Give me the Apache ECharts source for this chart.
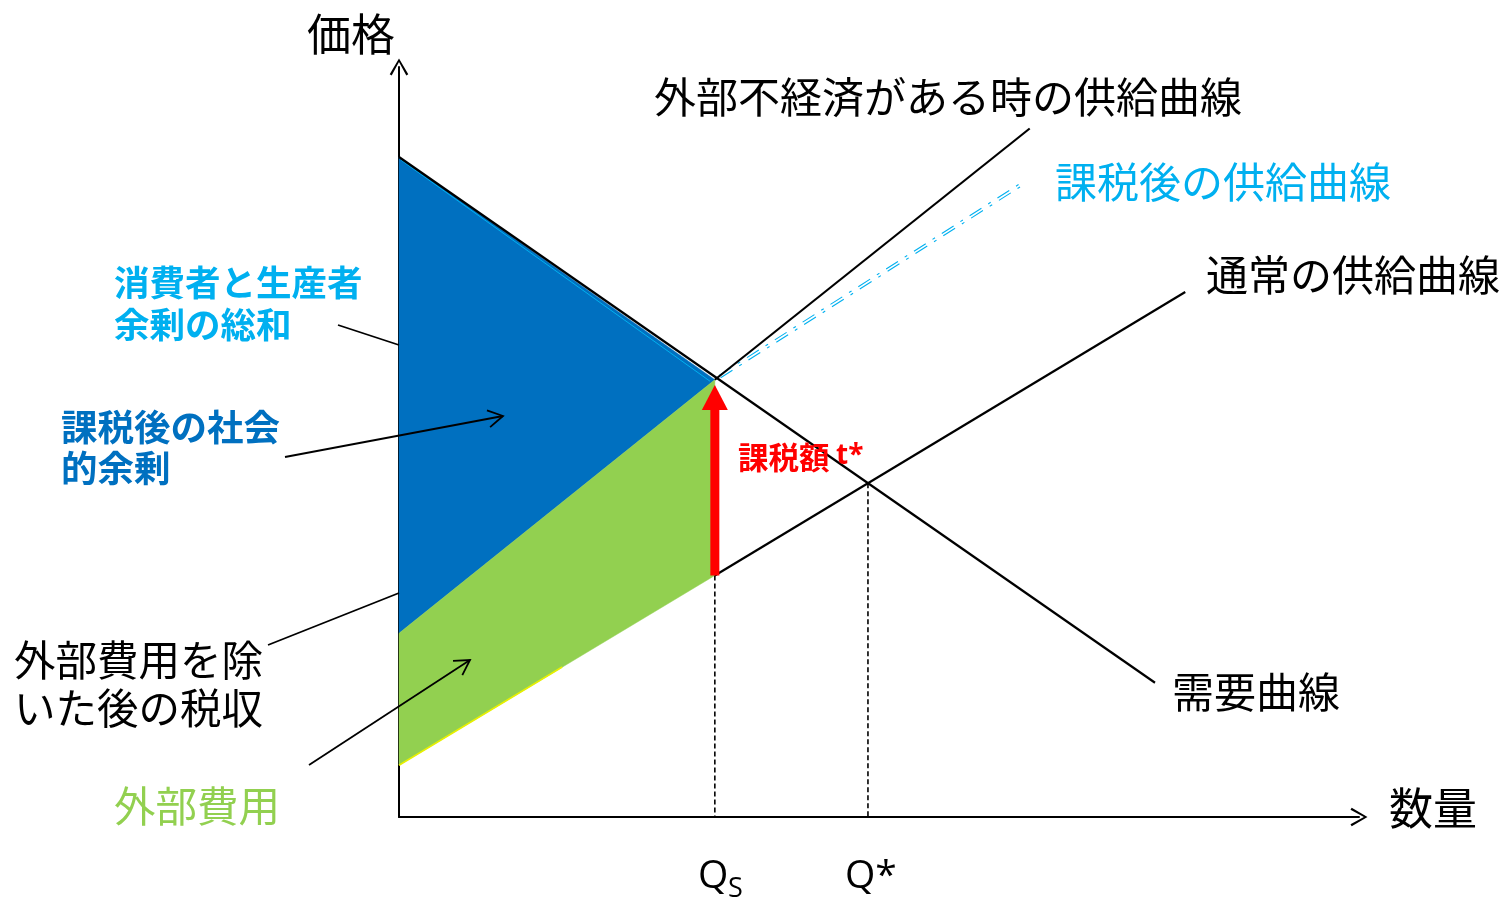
<!DOCTYPE html>
<html><head><meta charset="utf-8">
<script src="https://cdn.jsdelivr.net/npm/echarts@6/dist/echarts.min.js"></script>
<style>html,body{margin:0;padding:0;background:#fff}#c{width:1508px;height:904px}</style>
</head><body><div id="c"></div>
<script>
// ---- data (quantity 0..100, price 0..100) ----
const qS = 32.9;          // quantity after tax
const qStar = 48.85;      // market equilibrium quantity
const priceAtQs = 58.3;   // demand price at Qs
const costAtQs = 32.2;    // normal supply at Qs
const eqPrice = 44.5;     // equilibrium price
const demandLine = [[0, 88.0], [78.75, 17.9]];
const normalSupplyVisible = [[qS, 32.2], [81.9, 70.0]];
const externalSupplyVisible = [[qS, 58.3], [65.7, 91.8]];
const taxedSupplyLine = [[qS, 58.3], [64.9, 84.4]];
const surplusRegion = [[0, 88.0], [qS, 58.3], [0, 24.5]];
const externalCostRegion = [[0, 24.5], [qS, 58.3], [qS, 32.2], [0, 6.9]];
const greenEdge = [[0, 6.9], [17, 20.0]];
const taxArrow = [[qS, 32.2], [qS, 57.6]];
const dropLines = [[[qS, costAtQs], [qS, 0]], [[qStar, eqPrice], [qStar, 0]]];

const FONT = '"Noto Sans CJK JP", "Noto Sans", sans-serif';
const chevron = 'path://M0,17 L10,0 L20,17 L17.9,18.3 L10,3.9 L2.1,18.3 Z';

const chart = echarts.init(document.getElementById('c'), null, {renderer: 'canvas'});

function txt(x, y, s, size, color, weight, align) {
  return {type: 'text', x: x, y: y, z: 50,
    style: {text: s, fill: color, font: (weight || 'normal') + ' ' + size + 'px ' + FONT,
      textAlign: align || 'left', textVerticalAlign: 'middle'}};
}
function seg(x1, y1, x2, y2, head) {
  const els = [{type: 'line', z: 40, shape: {x1, y1, x2, y2}, style: {stroke: '#000', lineWidth: 1.8}}];
  if (head) {
    const a = Math.atan2(y2 - y1, x2 - x1), L = 17, w = Math.PI / 6;
    els.push({type: 'polyline', z: 40, shape: {points: [
      [x2 - L * Math.cos(a - w), y2 - L * Math.sin(a - w)], [x2, y2],
      [x2 - L * Math.cos(a + w), y2 - L * Math.sin(a + w)]]},
      style: {stroke: '#000', lineWidth: 1.8, fill: null}});
  }
  return els;
}

const graphics = [].concat(
  [txt(351, 34, '価格', 44, '#000', 'normal', 'center'),
   txt(1433, 808, '数量', 44, '#000', 'normal', 'center'),
   {type: 'text', x: 698, y: 877, z: 50, style: {text: 'Q', fill: '#000', font: '39px "Open Sans", sans-serif', textVerticalAlign: 'middle'}},
   {type: 'text', x: 728, y: 889, z: 50, style: {text: 'S', fill: '#000', font: '27px "Open Sans", sans-serif', textVerticalAlign: 'middle'}},
   {type: 'text', x: 845, y: 877, z: 50, style: {text: 'Q*', fill: '#000', font: '39px "Open Sans", sans-serif', textVerticalAlign: 'middle'}},
   txt(948, 97, '外部不経済がある時の供給曲線', 42, '#000', 'normal', 'center'),
   txt(1055, 182, '課税後の供給曲線', 42, '#00B0F0'),
   txt(1206, 275, '通常の供給曲線', 42, '#000'),
   txt(1172, 692, '需要曲線', 42, '#000'),
   txt(114, 283, '消費者と生産者', 35.5, '#00B0F0', 'bold'),
   txt(114, 325, '余剰の総和', 35.5, '#00B0F0', 'bold'),
   txt(61, 427, '課税後の社会', 36.5, '#0070C0', 'bold'),
   txt(61, 468, '的余剰', 36.5, '#0070C0', 'bold'),
   txt(14, 660, '外部費用を除', 41.5, '#000'),
   txt(14, 708, 'いた後の税収', 41.5, '#000'),
   txt(114, 806, '外部費用', 41.5, '#92D050'),
   txt(738, 457, '課税額', 30.5, '#FF0000', 'bold'),
   {type: 'text', x: 836, y: 456, z: 50, style: {text: 't*', fill: '#FF0000', font: 'bold 28px "Open Sans", sans-serif', textVerticalAlign: 'middle'}}
  ],
  seg(338, 325, 399, 345, false),
  seg(285, 457, 503, 416, true),
  seg(268, 645, 399, 593, false),
  seg(309, 765, 470, 660, true)
);

function polySeries(pts, color, z) {
  return {type: 'custom', z: z, clip: false, silent: true, data: [[0, 0]],
    renderItem: function (params, api) {
      return {type: 'polygon', shape: {points: pts.map(p => api.coord(p))},
        style: {fill: color, stroke: color, lineWidth: 0.5}};
    }};
}
function lineSeries(pts, color, width, dash, z) {
  return {type: 'line', data: pts, symbol: 'none', z: z, silent: true,
    lineStyle: {color: color, width: width, type: dash || 'solid'}};
}

const option = {
  animation: false,
  backgroundColor: '#fff',
  grid: {left: 399, top: 67, width: 960, height: 750, containLabel: false},
  xAxis: {type: 'value', min: 0, max: 100, splitLine: {show: false}, axisTick: {show: false}, axisLabel: {show: false},
    axisLine: {show: true, symbol: ['none', chevron], symbolSize: [22, 17], lineStyle: {color: '#000', width: 2}}},
  yAxis: {type: 'value', min: 0, max: 100, splitLine: {show: false}, axisTick: {show: false}, axisLabel: {show: false},
    axisLine: {show: true, symbol: ['none', chevron], symbolSize: [20, 17], lineStyle: {color: '#000', width: 2}}},
  graphic: graphics,
  series: [
    polySeries(surplusRegion, '#0070C0', 2),
    polySeries(externalCostRegion, '#92D050', 2),
    lineSeries(greenEdge, '#E8F000', 1.5, 'solid', 3),
    lineSeries([[demandLine[0][0] + 0.2, demandLine[0][1] - 0.4], [qS - 0.5, priceAtQs - 0.2]], '#00B0F0', 1, 'solid', 3),
    lineSeries(demandLine, '#000', 2.2, 'solid', 4),
    lineSeries(normalSupplyVisible, '#000', 2.2, 'solid', 4),
    lineSeries(externalSupplyVisible, '#000', 2.2, 'solid', 4),
    lineSeries(dropLines[0], '#000', 1.6, [5, 3], 4),
    lineSeries(dropLines[1], '#000', 1.6, [5, 3], 4),
    {type: 'custom', z: 4, clip: false, silent: true, data: [[0, 0]],
      renderItem: function (params, api) {
        const a = api.coord(taxedSupplyLine[0]), b = api.coord(taxedSupplyLine[1]);
        const dx = b[0] - a[0], dy = b[1] - a[1], len = Math.hypot(dx, dy);
        const nx = -dy / len * 1.4, ny = dx / len * 1.4;
        const mk = s => ({type: 'line', shape: {x1: a[0] + s * nx + dx / len * 6, y1: a[1] + s * ny + dy / len * 6, x2: b[0] + s * nx, y2: b[1] + s * ny},
          style: {stroke: '#00B0F0', lineWidth: 1.1, lineDash: [14, 8, 3, 8]}});
        return {type: 'group', children: [mk(1), mk(-1)]};
      }},
    {type: 'custom', z: 5, clip: false, silent: true, data: [[0, 0]],
      renderItem: function (params, api) {
        const s = api.coord(taxArrow[0]), t = api.coord(taxArrow[1]);
        const headH = 25, headW = 26;
        return {type: 'group', children: [
          {type: 'rect', shape: {x: s[0] - 4.5, y: t[1] + headH - 2, width: 9, height: s[1] - t[1] - headH + 2}, style: {fill: '#FF0000'}},
          {type: 'polygon', shape: {points: [[t[0], t[1]], [t[0] - headW / 2, t[1] + headH], [t[0] + headW / 2, t[1] + headH]]}, style: {fill: '#FF0000'}}
        ]};
      }}
  ]
};
chart.setOption(option);
</script>
</body></html>
